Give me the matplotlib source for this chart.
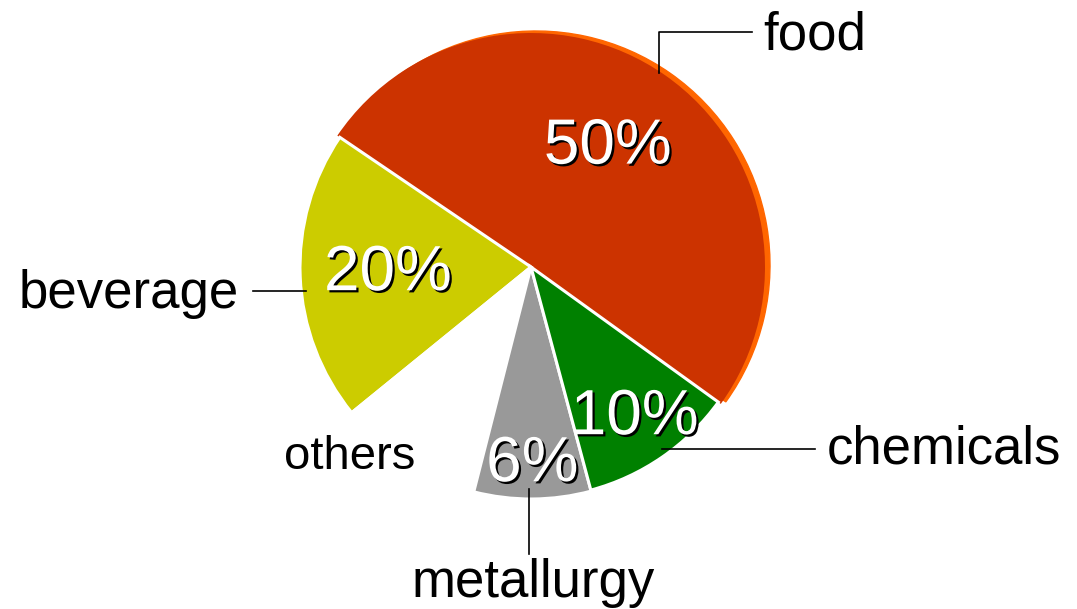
import matplotlib
matplotlib.use('Agg')
import matplotlib.pyplot as plt
import matplotlib.patheffects as pe
from matplotlib.patches import Wedge
import numpy as np

# data (slice sizes as drawn in the picture, printed labels as shown)
sectors = ['food', 'beverage', 'others', 'metallurgy', 'chemicals']
shares = [49.6, 20, 10, 8, 10.7]
pct_labels = ['50%', '20%', '', '6%', '10%']
colors = ['#CC3300', '#CCCC00', 'white', '#999999', '#008000']

plt.rcParams['font.family'] = ['Liberation Sans', 'DejaVu Sans']

W, H = 1077, 609
CX, CY = 531, 267  # pie centre in pixels


def px(x, y):
    # pixel position -> data coords (1 unit = 1 pixel, y up)
    return x - CX, CY - y


fig = plt.figure(figsize=(W / 100, H / 100), dpi=100)
ax = fig.add_axes([0, 0, 1, 1])

radii = [234, 231, 231, 232, 231]
wedges, _ = ax.pie(shares, colors=colors, startangle=-35.8, radius=230,
                   wedgeprops=dict(edgecolor='white', linewidth=2.2))
for w, r in zip(wedges, radii):
    w.set_radius(r)
wedges[0].set_edgecolor('none')
wedges[0].set_zorder(2)
for w in wedges[1:]:
    w.set_zorder(3)

# orange rim behind the food slice
food = wedges[0]
rim = Wedge((5, 2), radii[0], food.theta1, food.theta2, color='#FF6600', zorder=1)
ax.add_patch(rim)

# percentage labels, white with a dark drop shadow
label_frac = [0.61, 0.62, 0, 0.85, 0.79]
label_rot = [2.5, 0, 0, 0, 0]  # small angular nudge, degrees
shadow = [pe.SimplePatchShadow(offset=(1.6, -1.6), shadow_rgbFace='black', alpha=1.0),
          pe.Normal()]
for w, lab, f, d in zip(wedges, pct_labels, label_frac, label_rot):
    if not lab:
        continue
    mid = np.deg2rad((w.theta1 + w.theta2) / 2 + d)
    r = w.r * f
    ax.text(r * np.cos(mid), r * np.sin(mid), lab, color='white', fontsize=46,
            ha='center', va='center', zorder=5, path_effects=shadow)

# leader lines and category labels
leaders = {
    'food': [(659, 73), (659, 32), (752, 32)],
    'beverage': [(253, 291), (306, 291)],
    'chemicals': [(662, 449), (815, 449)],
    'metallurgy': [(529, 489), (529, 554)],
}
for pts in leaders.values():
    xs, ys = zip(*[px(*p) for p in pts])
    ax.plot(xs, ys, color='black', lw=1.2, zorder=6)

text_pos = {
    'food': ((763, 36), 'left', 38),
    'beverage': ((239, 294), 'right', 38),
    'chemicals': ((827, 450), 'left', 38),
    'metallurgy': ((533, 583), 'center', 38),
    'others': ((350, 457), 'center', 34),
}
for name in sectors:
    (x, y), ha, fs = text_pos[name]
    tx, ty = px(x, y)
    ax.text(tx, ty, name, fontsize=fs, ha=ha, va='center', color='black', zorder=6)

ax.set_xlim(-CX, W - CX)
ax.set_ylim(CY - H, CY)
ax.set_aspect('equal')
ax.axis('off')

fig.savefig('out.png', dpi=100)
